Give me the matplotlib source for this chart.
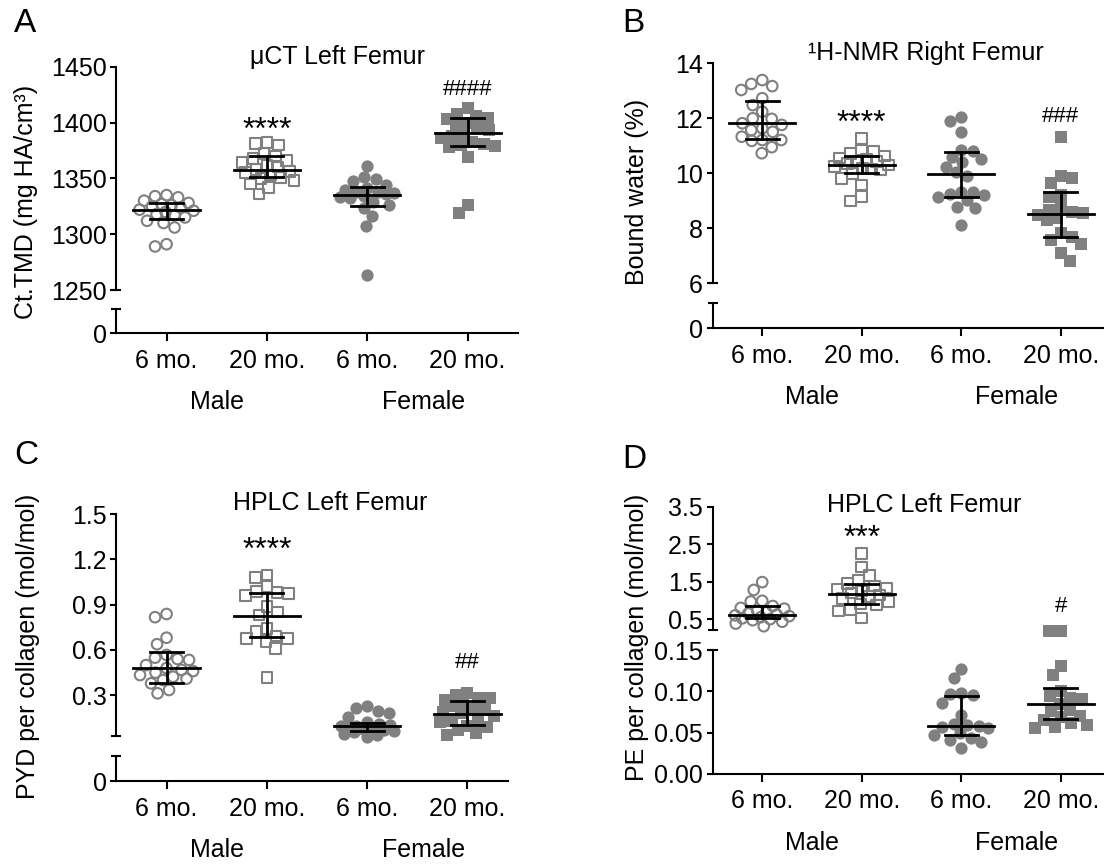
import numpy as np
import matplotlib.pyplot as plt
from matplotlib.transforms import blended_transform_factory, offset_copy

plt.rcParams['font.family'] = ['Liberation Sans', 'DejaVu Sans']

W, H = 1104, 867
GRAY = "#808080"
FS = 18

groups = ["6 mo.", "20 mo.", "6 mo.", "20 mo."]
sexes = ["Male", "Female"]

# A: uCT Ct.TMD (mg HA/cm3)
tmd_m6 = [1335, 1334, 1333, 1330, 1328, 1327, 1326, 1325, 1324, 1322, 1321,
          1320, 1318, 1317, 1315, 1312, 1310, 1306, 1291, 1289]
tmd_m20 = [1382, 1381, 1380, 1372, 1370, 1368, 1366, 1364, 1362, 1360, 1358,
           1356, 1355, 1353, 1351, 1350, 1348, 1345, 1342, 1336]
tmd_f6 = [1361, 1351, 1349, 1348, 1344, 1341, 1340, 1338, 1338, 1337, 1336,
          1334, 1333, 1332, 1329, 1326, 1323, 1316, 1307, 1263]
tmd_f20 = [1413, 1408, 1406, 1404, 1403, 1400, 1398, 1395, 1393, 1390, 1388,
           1386, 1383, 1381, 1380, 1379, 1378, 1369, 1326, 1319]
tmd_mid = [1321.6, 1357.5, 1335.0, 1390.3]
tmd_lo = [1313.3, 1351.5, 1325.0, 1379.0]
tmd_hi = [1328.2, 1370.0, 1342.0, 1403.8]

# B: 1H-NMR bound water (%)
bw_m6 = [13.39, 13.25, 13.17, 13.03, 12.73, 12.48, 12.24, 12.0, 11.98, 11.82,
         11.76, 11.64, 11.57, 11.51, 11.33, 11.21, 11.21, 11.18, 10.95, 10.73]
bw_m20 = [11.27, 10.85, 10.79, 10.73, 10.63, 10.55, 10.5, 10.45, 10.42, 10.36,
          10.3, 10.25, 10.2, 10.15, 10.12, 10.0, 9.82, 9.57, 9.15, 9.0]
bw_f6 = [12.04, 11.91, 11.51, 10.85, 10.82, 10.6, 10.51, 10.42, 10.24, 10.06,
         9.9, 9.33, 9.33, 9.24, 9.21, 9.13, 9.03, 8.79, 8.73, 8.12]
bw_f20 = [11.31, 9.9, 9.82, 9.64, 9.21, 9.15, 8.76, 8.67, 8.6, 8.55, 8.5,
          8.36, 8.3, 7.82, 7.7, 7.57, 7.43, 7.09, 6.82]
bw_mid = [11.82, 10.30, 9.97, 8.52]
bw_lo = [11.25, 10.02, 9.15, 7.70]
bw_hi = [12.64, 10.63, 10.79, 9.33]

# C: HPLC PYD per collagen (mol/mol)
pyd_m6 = [0.838, 0.817, 0.681, 0.638, 0.567, 0.549, 0.540, 0.534, 0.50, 0.48,
          0.468, 0.46, 0.45, 0.434, 0.423, 0.41, 0.401, 0.379, 0.335, 0.313]
pyd_m20 = [1.097, 1.081, 1.019, 0.986, 0.98, 0.975, 0.96, 0.887, 0.85, 0.832,
           0.744, 0.721, 0.693, 0.677, 0.677, 0.655, 0.611, 0.419]
pyd_f6 = [0.229, 0.214, 0.195, 0.185, 0.158, 0.12, 0.11, 0.105, 0.10, 0.095,
          0.09, 0.085, 0.08, 0.07, 0.065, 0.055, 0.045, 0.035, 0.025]
pyd_f20 = [0.315, 0.30, 0.285, 0.28, 0.27, 0.25, 0.23, 0.21, 0.2, 0.19, 0.18,
           0.16, 0.14, 0.13, 0.12, 0.1, 0.09, 0.07, 0.05, 0.04]
pyd_mid = [0.479, 0.825, 0.097, 0.176]
pyd_lo = [0.383, 0.684, 0.062, 0.103]
pyd_hi = [0.589, 0.98, 0.115, 0.26]

# D: HPLC PE per collagen (mol/mol)
pe_m6 = [1.49, 1.28, 0.99, 0.97, 0.85, 0.8, 0.78, 0.72, 0.68, 0.65, 0.62,
         0.6, 0.58, 0.55, 0.52, 0.5, 0.47, 0.43, 0.38, 0.31]
pe_m20 = [2.25, 1.89, 1.66, 1.55, 1.45, 1.38, 1.33, 1.30, 1.25, 1.2, 1.15,
          1.1, 1.05, 0.97, 0.9, 0.88, 0.75, 0.72, 0.53]
pe_f6 = [0.127, 0.116, 0.098, 0.097, 0.096, 0.086, 0.071, 0.06, 0.059, 0.058,
         0.057, 0.055, 0.049, 0.047, 0.044, 0.041, 0.038, 0.031]
pe_f20 = [0.174, 0.173, 0.131, 0.12, 0.1, 0.094, 0.092, 0.091, 0.085, 0.078,
          0.076, 0.07, 0.069, 0.065, 0.062, 0.059, 0.057, 0.055]
pe_mid = [0.615, 1.18, 0.058, 0.085]
pe_lo = [0.52, 0.90, 0.047, 0.067]
pe_hi = [0.84, 1.45, 0.094, 0.104]

fig = plt.figure(figsize=(W / 100, H / 100), dpi=100)


def px_axes(left, right, top, bottom, xlim):
    ax = fig.add_axes([left / W, 1 - bottom / H, (right - left) / W, (bottom - top) / H])
    ax.set_xlim(*xlim)
    ax.patch.set_alpha(0)
    for s in ["top", "right"]:
        ax.spines[s].set_visible(False)
    for s in ["left", "bottom"]:
        ax.spines[s].set_linewidth(1.5)
    ax.tick_params(axis="y", length=4, width=1.5, pad=3, labelsize=FS)
    ax.tick_params(axis="x", length=6, width=1.5, pad=5, labelsize=FS)
    return ax


def upper(ax):
    ax.spines["bottom"].set_visible(False)
    ax.set_xticks([])


def lower(ax, sex_dy=69):
    ax.set_xticks(range(4))
    ax.set_xticklabels(groups)
    tr = offset_copy(blended_transform_factory(ax.transData, ax.transAxes),
                     fig=fig, y=-sex_dy, units="dots")
    ax.text(0.5, 0, sexes[0], transform=tr, ha="center", va="center", fontsize=FS)
    ax.text(2.56, 0, sexes[1], transform=tr, ha="center", va="center", fontsize=FS)


def cap(ax, y):
    ax.plot([0], [y], marker="_", ms=7.5, mew=1.5, color="k", clip_on=False,
            transform=blended_transform_factory(ax.transAxes, ax.transData))


def swarm(ypx, diam, maxw):
    # simple beeswarm in pixel space, spread limited to +-maxw
    steps = np.arange(0.5, maxw + 0.01, 0.5)
    placed = []
    xs = np.zeros(len(ypx))
    for n, i in enumerate(np.argsort(-np.asarray(ypx))):
        y = ypx[i]
        first = 1 if n % 2 == 0 else -1
        cands = [0.0]
        for s in steps:
            cands += [first * s, -first * s]
        best_x, best_d = 0.0, -1.0
        for x in cands:
            d = min((np.hypot(x - px, y - py) for px, py in placed), default=1e9)
            if d >= diam:
                best_x = x
                break
            if d > best_d:
                best_x, best_d = x, d
        xs[i] = best_x
        placed.append((best_x, y))
    return xs


def draw_group(ax, i, vals, mid, lo, hi, marker, filled):
    vals = np.asarray(vals, dtype=float)
    pts = ax.transData.transform(np.column_stack([np.full(len(vals), i), vals]))
    per_unit = ax.transData.transform((1, 0))[0] - ax.transData.transform((0, 0))[0]
    off = swarm(pts[:, 1], 11.5, 27) / per_unit
    if filled:
        ax.scatter(i + off, vals, s=78, marker=marker, color=GRAY, linewidths=0,
                   clip_on=False, zorder=2)
    else:
        ax.scatter(i + off, vals, s=58, marker=marker, facecolors="none",
                   edgecolors=GRAY, linewidths=1.5, clip_on=False, zorder=2)
    kw = dict(color="k", lw=2, zorder=3, clip_on=False)
    ax.plot([i - 0.33, i + 0.33], [mid, mid], **kw)
    ax.plot([i, i], [lo, hi], **kw)
    ax.plot([i - 0.165, i + 0.165], [lo, lo], **kw)
    ax.plot([i - 0.165, i + 0.165], [hi, hi], **kw)


def mark(ax, x, y, s):
    star = "*" in s
    ax.text(x, y, s, ha="center", va="center", fontsize=23 if star else 16,
            transform=offset_copy(ax.transData, fig=fig, y=-6 if star else 0, units="dots"))


def fig_text(x, y, s, size=FS, **kw):
    fig.text(x / W, 1 - y / H, s, fontsize=size, ha="center", va="center", **kw)


markers = ["o", "s", "o", "s"]
fills = [False, False, True, True]

# ---------- Panel A ----------
a_up = px_axes(116.4, 517.8, 66.7, 290, (-0.5, 3.5))
upper(a_up)
a_up.set_ylim(1250, 1450)
a_up.set_yticks([1250, 1300, 1350, 1400, 1450])
cap(a_up, 1250)
a_lo = px_axes(116.4, 517.8, 309.3, 333.3, (-0.5, 3.5))
a_lo.set_ylim(0, 1)
a_lo.set_yticks([0])
cap(a_lo, 1)
lower(a_lo)
for i, v in enumerate([tmd_m6, tmd_m20, tmd_f6, tmd_f20]):
    draw_group(a_up, i, v, tmd_mid[i], tmd_lo[i], tmd_hi[i], markers[i], fills[i])
mark(a_up, 1, 1398, "****")
mark(a_up, 3, 1430, "####")
fig_text(337, 56.7, "\u03bcCT Left Femur")
fig_text(26.5, 202, "Ct.TMD (mg HA/cm\u00b3)", rotation=90)
fig_text(24.7, 23.3, "A", size=24)

# ---------- Panel B ----------
b_up = px_axes(712.5, 1110.5, 63.3, 283.3, (-0.5, 3.5))
upper(b_up)
b_up.set_ylim(6, 14)
b_up.set_yticks([6, 8, 10, 12, 14])
cap(b_up, 6)
b_lo = px_axes(712.5, 1110.5, 303.3, 328.3, (-0.5, 3.5))
b_lo.set_ylim(0, 1)
b_lo.set_yticks([0])
cap(b_lo, 1)
lower(b_lo)
for i, v in enumerate([bw_m6, bw_m20, bw_f6, bw_f20]):
    draw_group(b_up, i, v, bw_mid[i], bw_lo[i], bw_hi[i], markers[i], fills[i])
mark(b_up, 1, 12.0, "****")
mark(b_up, 3, 12.06, "###")
fig_text(926, 53.3, "\u00b9H-NMR Right Femur")
fig_text(636.7, 192, "Bound water (%)", rotation=90)
fig_text(633.5, 23.3, "B", size=24)

# ---------- Panel C ----------
c_up = px_axes(116.4, 507.6, 514, 735.7, (-0.5, 3.4))
upper(c_up)
c_up.set_ylim(0.0325, 1.5)
c_up.set_yticks([0.3, 0.6, 0.9, 1.2, 1.5])
c_up.set_yticklabels(["0.3", "0.6", "0.9", "1.2", "1.5"])
cap(c_up, 0.0325)
c_lo = px_axes(116.4, 507.6, 756.3, 781.3, (-0.5, 3.4))
c_lo.set_ylim(0, 1)
c_lo.set_yticks([0])
cap(c_lo, 1)
lower(c_lo)
for i, v in enumerate([pyd_m6, pyd_m20, pyd_f6, pyd_f20]):
    draw_group(c_up, i, v, pyd_mid[i], pyd_lo[i], pyd_hi[i], markers[i], fills[i])
mark(c_up, 1, 1.297, "****")
mark(c_up, 3, 0.514, "##")
fig_text(330, 503, "HPLC Left Femur")
fig_text(28, 646, "PYD per collagen (mol/mol)", rotation=90)
fig_text(26.5, 456, "C", size=24)

# ---------- Panel D ----------
d_up = px_axes(712.5, 1110.5, 507, 630.3, (-0.5, 3.5))
upper(d_up)
d_up.set_ylim(0.2, 3.5)
d_up.set_yticks([0.5, 1.5, 2.5, 3.5])
d_up.set_yticklabels(["0.5", "1.5", "2.5", "3.5"])
cap(d_up, 0.2)
d_lo = px_axes(712.5, 1110.5, 650.3, 773.7, (-0.5, 3.5))
d_lo.set_ylim(0, 0.15)
d_lo.set_yticks([0, 0.05, 0.10, 0.15])
d_lo.set_yticklabels(["0.00", "0.05", "0.10", "0.15"])
cap(d_lo, 0.15)
lower(d_lo)
for i, v in enumerate([pe_m6, pe_m20, pe_f6, pe_f20]):
    ax = d_up if i < 2 else d_lo
    draw_group(ax, i, v, pe_mid[i], pe_lo[i], pe_hi[i], markers[i], fills[i])
mark(d_up, 1, 2.8, "***")
mark(d_lo, 3, 0.203, "#")
fig_text(924.5, 504.7, "HPLC Left Femur")
fig_text(636.7, 637, "PE per collagen (mol/mol)", rotation=90)
fig_text(634.5, 459.7, "D", size=24)

fig.savefig("out.png", dpi=100)
